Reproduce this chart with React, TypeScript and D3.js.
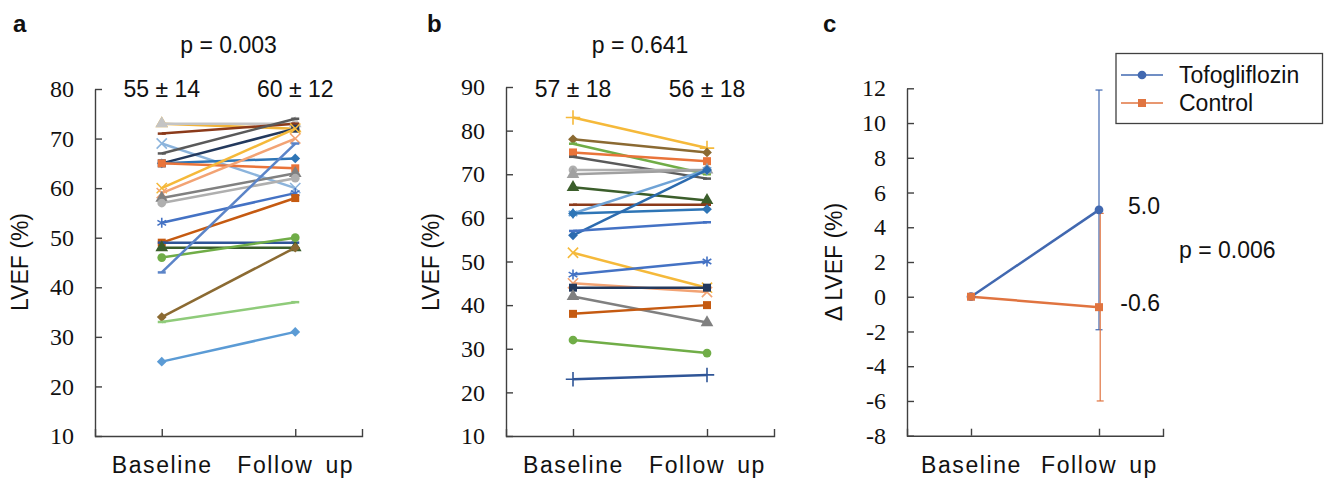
import React, { useEffect, useRef } from 'react'
import * as d3 from 'd3'

const timepoints = ['Baseline', 'Follow up']

// panel a: tofogliflozin group, LVEF (%)
const aBaseline = [73, 73, 71, 69, 67, 65, 65, 65, 60, 59, 58, 57, 53, 49, 49, 48, 46, 43, 34, 33, 25]
const aFollowUp = [72, 73, 73, 60, 74, 72, 66, 64, 72, 70, 63, 62, 59, 58, 49, 48, 50, 69, 48, 37, 31]
const aTicks = [10, 20, 30, 40, 50, 60, 70, 80]
const aSummary = ['55 ± 14', '60 ± 12']
const aP = 'p = 0.003'

// panel b: control group, LVEF (%)
const bBaseline = [83, 78, 77, 75, 74, 71, 70, 67, 63, 61, 61, 56, 57, 52, 47, 45, 44, 42, 38, 32, 23]
const bFollowUp = [76, 75, 70, 73, 69, 71, 71, 64, 63, 71, 62, 71, 59, 44, 50, 43, 44, 36, 40, 29, 24]
const bTicks = [10, 20, 30, 40, 50, 60, 70, 80, 90]
const bSummary = ['57 ± 18', '56 ± 18']
const bP = 'p = 0.641'

// panel c: change in LVEF
const cGroups = ['Tofogliflozin', 'Control']
const cBaseline = [0, 0]
const cFollowMean = [5.0, -0.6]
const cFollowSD = [6.9, 5.4]
const cTicks = [-8, -6, -4, -2, 0, 2, 4, 6, 8, 10, 12]
const cP = 'p = 0.006'

// styles per patient line
const aColors = ['#F0B43C', '#C4C4C4', '#8B3A1A', '#8CB4DC', '#5A5A5A', '#23395D', '#2E75B6', '#E9743A', '#F5B93A', '#F2A374', '#808080',
  '#AFAFAF', '#4472C4', '#C55A11', '#2F5597', '#3B5E2B', '#70AD47', '#5B84C8', '#8B6A32', '#8FCB7A', '#5B9BD5']
const aMarkers = ['triangle', 'triangle', 'dash', 'x', 'dash', 'square', 'diamond', 'square', 'x', 'x', 'triangle',
  'circle', 'asterisk', 'square', 'dash', 'triangle', 'circle', 'dash', 'diamond', 'dash', 'diamond']
const bColors = ['#F5B93A', '#8B6A32', '#70AD47', '#E9743A', '#5A5A5A', '#AFAFAF', '#A0A0A0', '#3B5E2B', '#8B3A1A', '#6FA3D6', '#2E75B6',
  '#2C6BAF', '#4472C4', '#F5B93A', '#4472C4', '#F2A374', '#23395D', '#808080', '#C55A11', '#70AD47', '#2F5597']
const bMarkers = ['plus', 'diamond', 'dash', 'square', 'dash', 'circle', 'triangle', 'triangle', 'dash', 'asterisk', 'diamond',
  'diamond', 'dash', 'x', 'asterisk', 'x', 'square', 'triangle', 'square', 'circle', 'plus']
const cColors = ['#4168B0', '#E07440']

const SANS = '"Liberation Sans", Arial, sans-serif'
const SERIF = '"Liberation Serif", "Times New Roman", serif'
const AXIS = '#404040'

function marker(g: any, type: string, x: number, y: number, color: string) {
  const t = `translate(${x},${y})`
  if (type === 'dash') {
    g.append('line').attr('x1', x - 4).attr('x2', x + 4).attr('y1', y).attr('y2', y)
      .attr('stroke', color).attr('stroke-width', 2.5)
    return
  }
  if (type === 'x' || type === 'plus' || type === 'asterisk') {
    const sym = type === 'x' ? d3.symbolTimes : type === 'plus' ? d3.symbolPlus : d3.symbolAsterisk
    g.append('path').attr('d', d3.symbol(sym, 70)()).attr('transform', t)
      .attr('fill', 'none').attr('stroke', color).attr('stroke-width', 1.6)
    return
  }
  let path = ''
  let rot = ''
  if (type === 'square') path = d3.symbol(d3.symbolSquare, 64)() as string
  if (type === 'triangle') path = d3.symbol(d3.symbolTriangle, 70)() as string
  if (type === 'circle') path = d3.symbol(d3.symbolCircle, 60)() as string
  if (type === 'diamond') { path = d3.symbol(d3.symbolSquare, 48)() as string; rot = ' rotate(45)' }
  g.append('path').attr('d', path).attr('transform', t + rot).attr('fill', color)
}

function axes(g: any, x: any, y: any, ticks: number[]) {
  const yAxis = d3.axisLeft(y).tickValues(ticks).tickSizeInner(-7).tickSizeOuter(0).tickPadding(21)
    .tickFormat((d: any) => String(d))
  const [r0] = x.range()
  const bottom = y.range()[0]
  const yg = g.append('g').attr('transform', `translate(${r0},0)`).call(yAxis)
  yg.selectAll('text').attr('font-family', SERIF).attr('font-size', 24).attr('fill', '#111')
  const xAxis = d3.axisBottom(x).tickSizeInner(-7).tickSizeOuter(-7).tickPadding(21)
  const xg = g.append('g').attr('transform', `translate(0,${bottom})`).call(xAxis)
  xg.selectAll('text').attr('font-family', SANS).attr('font-size', 23).attr('fill', '#111')
    .attr('letter-spacing', 1.6).attr('word-spacing', 4)
  g.selectAll('.domain, .tick line').attr('stroke', AXIS).attr('stroke-width', 1.4)
  g.selectAll('.tick text').attr('stroke', 'none')
}

function pairedPanel(svg: any, o: any) {
  const g = svg.append('g')
  const x = d3.scalePoint(timepoints, [o.x0, o.x1]).padding(0.5)
  const y = d3.scaleLinear(o.domain, [436, o.top])
  axes(g, x, y, o.ticks)
  const xb = x('Baseline') as number
  const xf = x('Follow up') as number
  o.baseline.forEach((b: number, i: number) => {
    const f = o.follow[i]
    g.append('line').attr('x1', xb).attr('y1', y(b)).attr('x2', xf).attr('y2', y(f))
      .attr('stroke', o.colors[i]).attr('stroke-width', 2.5)
    marker(g, o.markers[i], xb, y(b), o.colors[i])
    marker(g, o.markers[i], xf, y(f), o.colors[i])
  })
  g.append('text').attr('x', o.x0 - 67).attr('y', 262).attr('transform', `rotate(-90,${o.x0 - 67},262)`)
    .attr('text-anchor', 'middle').attr('font-family', SANS).attr('font-size', 23).attr('fill', '#111').text('LVEF (%)')
  o.summary.forEach((s: string, i: number) => {
    g.append('text').attr('x', x(timepoints[i])).attr('y', 97).attr('text-anchor', 'middle')
      .attr('font-family', SANS).attr('font-size', 23).attr('fill', '#111').text(s)
  })
  g.append('text').attr('x', (xb + xf) / 2).attr('y', 53).attr('text-anchor', 'middle')
    .attr('font-family', SANS).attr('font-size', 23).attr('fill', '#111').text(o.p)
  g.append('text').attr('x', o.letterX).attr('y', 32).attr('font-family', SANS).attr('font-weight', 'bold')
    .attr('font-size', 24).attr('fill', '#111').text(o.letter)
}

function deltaPanel(svg: any) {
  const g = svg.append('g')
  const x = d3.scalePoint(timepoints, [907, 1163]).padding(0.5)
  const y = d3.scaleLinear([-8, 12], [435.7, 88.3])
  axes(g, x, y, cTicks)
  const xb = x('Baseline') as number
  const xf = x('Follow up') as number
  cGroups.forEach((grp, i) => {
    const ex = xf + i * 1.2
    const lo = y(cFollowMean[i] - cFollowSD[i])
    const hi = y(cFollowMean[i] + cFollowSD[i])
    g.append('line').attr('x1', ex).attr('x2', ex).attr('y1', lo).attr('y2', hi)
      .attr('stroke', cColors[i]).attr('stroke-width', 1.2)
    ;[lo, hi].forEach(v => g.append('line').attr('x1', ex - 3.5).attr('x2', ex + 3.5).attr('y1', v).attr('y2', v)
      .attr('stroke', cColors[i]).attr('stroke-width', 1.2))
  })
  cGroups.forEach((grp, i) => {
    g.append('line').attr('x1', xb).attr('y1', y(cBaseline[i])).attr('x2', xf).attr('y2', y(cFollowMean[i]))
      .attr('stroke', cColors[i]).attr('stroke-width', 2.5)
  })
  cGroups.forEach((grp, i) => {
    const type = i === 0 ? 'circle' : 'square'
    marker(g, type, xb, y(cBaseline[i]), cColors[i])
    marker(g, type, xf, y(cFollowMean[i]), cColors[i])
    g.append('text').attr('x', 1160).attr('y', y(cFollowMean[i]) + 4).attr('text-anchor', 'end')
      .attr('font-family', SANS).attr('font-size', 23).attr('fill', '#111').text(cFollowMean[i].toFixed(1))
  })
  g.append('text').attr('x', 1179).attr('y', 258).attr('font-family', SANS).attr('font-size', 23)
    .attr('fill', '#111').text(cP)
  g.append('text').attr('x', 842).attr('y', 262).attr('transform', 'rotate(-90,842,262)')
    .attr('text-anchor', 'middle').attr('font-family', SANS).attr('font-size', 23).attr('fill', '#111').text('Δ LVEF (%)')
  g.append('text').attr('x', 823).attr('y', 32).attr('font-family', SANS).attr('font-weight', 'bold')
    .attr('font-size', 24).attr('fill', '#111').text('c')

  // legend
  const lg = g.append('g')
  lg.append('rect').attr('x', 1116).attr('y', 53.5).attr('width', 206.5).attr('height', 70)
    .attr('fill', 'white').attr('stroke', AXIS).attr('stroke-width', 1.3)
  cGroups.forEach((grp, i) => {
    const ly = 75 + i * 28
    lg.append('line').attr('x1', 1121).attr('x2', 1163).attr('y1', ly).attr('y2', ly)
      .attr('stroke', cColors[i]).attr('stroke-width', 1.5)
    marker(lg, i === 0 ? 'circle' : 'square', 1142, ly, cColors[i])
    lg.append('text').attr('x', 1179).attr('y', ly + 7.5).attr('font-family', SANS).attr('font-size', 23)
      .attr('fill', '#111').text(grp)
  })
}

export default function App() {
  const ref = useRef<SVGSVGElement>(null)
  useEffect(() => {
    const svg = d3.select(ref.current)
    svg.selectAll('*').remove()
    pairedPanel(svg, {
      x0: 95, x1: 362, top: 89, domain: [10, 80], ticks: aTicks, baseline: aBaseline, follow: aFollowUp,
      colors: aColors, markers: aMarkers, summary: aSummary, p: aP, letter: 'a', letterX: 13
    })
    pairedPanel(svg, {
      x0: 506, x1: 774, top: 87, domain: [10, 90], ticks: bTicks, baseline: bBaseline, follow: bFollowUp,
      colors: bColors, markers: bMarkers, summary: bSummary, p: bP, letter: 'b', letterX: 427
    })
    deltaPanel(svg)
  }, [])
  return (
    <svg ref={ref} width={1325} height={480} style={{ position: 'absolute', left: 0, top: 0, background: 'white' }} />
  )
}
